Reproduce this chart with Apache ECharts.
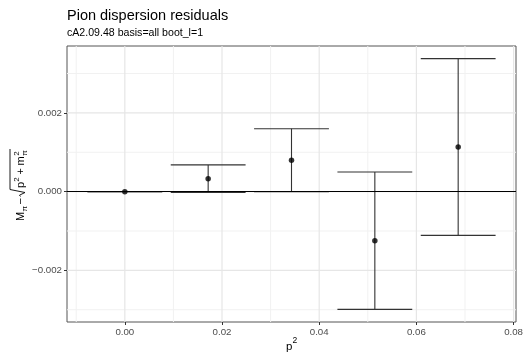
<!DOCTYPE html>
<html><head><meta charset="utf-8">
<script src="https://cdn.jsdelivr.net/npm/echarts@6/dist/echarts.min.js"></script>
<style>html,body{margin:0;padding:0;background:#fff}#c{width:526px;height:355px}</style>
</head><body><div id="c"></div>
<script>
// ---- data ----
const p2 = [0, 0.01715, 0.0343, 0.05145, 0.0686];
const residual = [0, 0.00033, 0.0008, -0.001245, 0.001135];
const errLow = [0, -0.00002, 0.0, -0.00299, -0.00111];
const errHigh = [0, 0.00068, 0.0016, 0.0005, 0.00338];
const xTicks = [0, 0.02, 0.04, 0.06, 0.08];
const xMinorTicks = [-0.01, 0.01, 0.03, 0.05, 0.07];
const yTicks = [-0.002, 0, 0.002];
const yMinorTicks = [-0.003, -0.001, 0.001, 0.003];
const titleText = 'Pion dispersion residuals';
const subtitleText = 'cA2.09.48 basis=all boot_l=1';

// ---- layout / style ----
const whiskerHalf = 0.0077;
const xMin = -0.0119, xMax = 0.0805;
const yMin = -0.00331, yMax = 0.0037;
const FONT = 'Liberation Sans';
const majorGrid = '#e6e6e6';
const minorGrid = '#f1f1f1';

const chart = echarts.init(document.getElementById('c'), null, {renderer: 'canvas'});

function gridSeries(values, vertical, color, width) {
  return {
    type: 'custom', silent: true, z: 1, clip: false,
    data: values.map(v => vertical ? [v, 0] : [0, v]),
    encode: {x: 0, y: 1},
    renderItem: function (params, api) {
      const cs = params.coordSys;
      const pt = api.coord([api.value(0), api.value(1)]);
      if (vertical) {
        return {type: 'rect', shape: {x: pt[0] - width / 2, y: cs.y, width: width, height: cs.height},
          style: {fill: color}};
      }
      return {type: 'rect', shape: {x: cs.x, y: pt[1] - width / 2, width: cs.width, height: width},
        style: {fill: color}};
    }
  };
}

const txt = (text, x, y, size, extra) => Object.assign({
  type: 'text', x: x, y: y,
  style: {text: text, fontFamily: FONT, fontSize: size, fill: '#000', verticalAlign: 'bottom', align: 'left'}
}, extra || {});

const option = {
  animation: false,
  backgroundColor: '#fff',
  title: {
    text: titleText, subtext: subtitleText,
    left: 67, top: 8, padding: 0, itemGap: 5,
    textStyle: {fontFamily: FONT, fontSize: 14.5, fontWeight: 'normal', color: '#000'},
    subtextStyle: {fontFamily: FONT, fontSize: 10.6, color: '#000'}
  },
  grid: {left: 67, right: 10, top: 46, bottom: 33, show: true, borderColor: '#555', borderWidth: 1, backgroundColor: 'transparent'},
  xAxis: {
    type: 'value', min: xMin, max: xMax,
    axisLine: {show: false, onZero: false},
    axisTick: {show: true, customValues: xTicks, length: 3, lineStyle: {color: '#333'}},
    axisLabel: {customValues: xTicks, formatter: v => v.toFixed(2), margin: 5, fontSize: 9.7, color: '#4d4d4d', fontFamily: FONT},
    splitLine: {show: false}
  },
  yAxis: {
    type: 'value', min: yMin, max: yMax,
    axisLine: {show: false, onZero: false},
    axisTick: {show: true, customValues: yTicks, length: 3, lineStyle: {color: '#333'}},
    axisLabel: {customValues: yTicks, formatter: v => (v < 0 ? '\u2212' : '') + Math.abs(v).toFixed(3), margin: 5, fontSize: 9.7, color: '#4d4d4d', fontFamily: FONT},
    splitLine: {show: false}
  },
  graphic: [
    txt('p', 286, 353, 11.5),
    txt('2', 292.5, 345, 8.5),
    {
      type: 'group', x: 20, y: 184, rotation: Math.PI / 2,
      children: [
        txt('M', -37, 6.5, 11),
        txt('\u03c0', -27.6, 8.5, 8),
        txt('\u2212', -20.5, 6.5, 11),
        {type: 'polyline', shape: {points: [[-12.5, 0.5], [-11.2, -0.5], [-8.5, 5], [-5.5, -10], [35, -10]]},
          style: {stroke: '#000', lineWidth: 0.9, fill: null}},
        txt('p', -4, 6.5, 11),
        txt('2', 2.3, 0.5, 8),
        txt('+', 9.5, 6.5, 11),
        txt('m', 18.5, 6.5, 11),
        txt('2', 28.3, 0.5, 8),
        txt('\u03c0', 28.3, 8.5, 8)
      ]
    }
  ],
  series: [
    gridSeries(xMinorTicks, true, minorGrid, 1),
    gridSeries(yMinorTicks, false, minorGrid, 1),
    gridSeries(xTicks, true, majorGrid, 1.2),
    gridSeries(yTicks, false, majorGrid, 1.2),
    {
      type: 'custom', z: 3, silent: true,
      data: p2.map((x, i) => [x, errLow[i], errHigh[i]]),
      encode: {x: 0, y: [1, 2]},
      renderItem: function (params, api) {
        const x = api.value(0), lo = api.value(1), hi = api.value(2);
        const a = api.coord([x, lo]), b = api.coord([x, hi]);
        const l = api.coord([x - whiskerHalf, lo])[0], r = api.coord([x + whiskerHalf, lo])[0];
        const st = {stroke: '#333', lineWidth: 1.1};
        return {type: 'group', children: [
          {type: 'line', shape: {x1: a[0], y1: a[1], x2: b[0], y2: b[1]}, style: st},
          {type: 'line', shape: {x1: l, y1: a[1], x2: r, y2: a[1]}, style: st},
          {type: 'line', shape: {x1: l, y1: b[1], x2: r, y2: b[1]}, style: st}
        ]};
      }
    },
    {
      type: 'scatter', z: 5, silent: true,
      symbol: 'circle', symbolSize: 5.5,
      itemStyle: {color: '#000'},
      data: p2.map((x, i) => [x, residual[i]]),
      markLine: {
        silent: true, symbol: 'none', label: {show: false},
        lineStyle: {color: '#000', width: 1, type: 'solid'},
        data: [{yAxis: 0}]
      }
    }
  ]
};
chart.setOption(option);
</script>
</body></html>
